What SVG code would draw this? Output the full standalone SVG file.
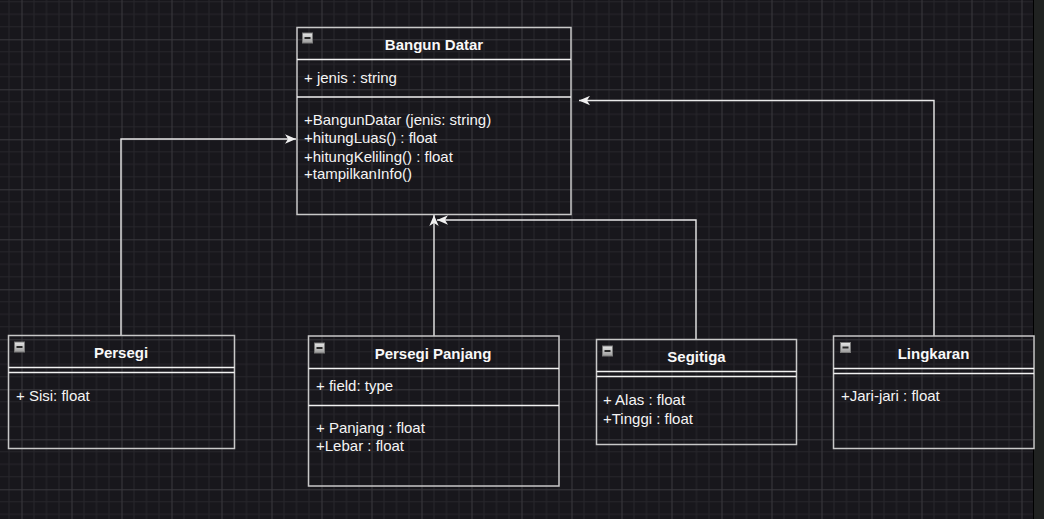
<svg xmlns="http://www.w3.org/2000/svg" width="1044" height="519" viewBox="0 0 1044 519">
<style>
.box{fill:none;stroke:#c8c8c8;stroke-width:1.5}
.div{stroke:#f2f2f2;stroke-width:1.5}
.t{font-family:"Liberation Sans",Arial,sans-serif;font-size:15px;fill:#f4f4f4}
.h{font-family:"Liberation Sans",Arial,sans-serif;font-size:15px;font-weight:bold;fill:#f8f8f8;text-anchor:middle}
.edge{fill:none;stroke:#e8e8e8;stroke-width:1.4}
</style>
<defs>
<pattern id="grid" x="21.5" y="39.3" width="50" height="50" patternUnits="userSpaceOnUse">
<path d="M12.5,0V50M25,0V50M37.5,0V50M0,12.5H50M0,25H50M0,37.5H50" stroke="#27262b" stroke-width="1" fill="none"/>
<path d="M0.5,0V50M0,0.5H50" stroke="#3a393e" stroke-width="1" fill="none"/>
</pattern>
<linearGradient id="ig" x1="0" y1="0" x2="0" y2="1">
<stop offset="0" stop-color="#e8e8e8"/>
<stop offset="1" stop-color="#9a9a9a"/>
</linearGradient>
<g id="icon">
<rect x="0.5" y="0.5" width="10" height="10" fill="url(#ig)" stroke="#7a7a7a" stroke-width="1"/>
<rect x="2.5" y="4.5" width="6" height="2" fill="#2a2a2a"/>
</g>
<marker id="arr" viewBox="0 0 11 10" refX="11" refY="5" markerWidth="11" markerHeight="10" markerUnits="userSpaceOnUse" orient="auto">
<path d="M11,5 L0,0.3 L3,5 L0,9.7 Z" fill="#f0f0f0"/>
</marker>
</defs>
<rect width="1044" height="519" fill="#18171c"/>
<rect width="1033" height="519" fill="url(#grid)"/>
<rect x="1033" y="0" width="1" height="519" fill="#000"/>
<rect x="1034" y="0" width="10" height="519" fill="#202221"/>

<g id="connectors">
<path class="edge" d="M121,335 V139 H296" marker-end="url(#arr)"/>
<path class="edge" d="M434,336 V215" marker-end="url(#arr)"/>
<path class="edge" d="M696,339 V220 H437" marker-end="url(#arr)"/>
<path class="edge" d="M934,336 V100.5 H579" marker-end="url(#arr)"/>
</g>

<g id="bangun-datar">
<rect class="box" x="297" y="27.5" width="274" height="187"/>
<line class="div" x1="297" y1="59.5" x2="571" y2="59.5"/>
<line class="div" x1="297" y1="97" x2="571" y2="97"/>
<use href="#icon" x="302" y="32.5"/>
<text class="h" x="434" y="50">Bangun Datar</text>
<text class="t" x="304" y="82.5">+ jenis : string</text>
<text class="t" x="304" y="125">+BangunDatar (jenis: string)</text>
<text class="t" x="304" y="143.3">+hitungLuas() : float</text>
<text class="t" x="304" y="161.6">+hitungKeliling() : float</text>
<text class="t" x="304" y="179">+tampilkanInfo()</text>
</g>

<g id="persegi">
<rect class="box" x="8.5" y="335.5" width="226" height="113"/>
<line class="div" x1="8.5" y1="367.5" x2="234.5" y2="367.5"/>
<line class="div" x1="8.5" y1="372.5" x2="234.5" y2="372.5"/>
<use href="#icon" x="14" y="341.5"/>
<text class="h" x="121" y="358">Persegi</text>
<text class="t" x="16" y="401">+ Sisi: float</text>
</g>

<g id="persegi-panjang">
<rect class="box" x="308.5" y="336" width="250.5" height="150"/>
<line class="div" x1="308.5" y1="368.5" x2="559" y2="368.5"/>
<line class="div" x1="308.5" y1="405.5" x2="559" y2="405.5"/>
<use href="#icon" x="314" y="342.5"/>
<text class="h" x="433" y="358.5">Persegi Panjang</text>
<text class="t" x="316" y="391">+ field: type</text>
<text class="t" x="316" y="433">+ Panjang : float</text>
<text class="t" x="316" y="451">+Lebar : float</text>
</g>

<g id="segitiga">
<rect class="box" x="596.5" y="339.5" width="200" height="105"/>
<line class="div" x1="596.5" y1="371.5" x2="796.5" y2="371.5"/>
<line class="div" x1="596.5" y1="376.5" x2="796.5" y2="376.5"/>
<use href="#icon" x="602" y="345.5"/>
<text class="h" x="696.5" y="362">Segitiga</text>
<text class="t" x="603" y="405">+ Alas : float</text>
<text class="t" x="603" y="423.5">+Tinggi : float</text>
</g>

<g id="lingkaran">
<rect class="box" x="833.5" y="336" width="200.5" height="112.5"/>
<line class="div" x1="833.5" y1="368.5" x2="1034" y2="368.5"/>
<line class="div" x1="833.5" y1="373.5" x2="1034" y2="373.5"/>
<use href="#icon" x="840" y="342"/>
<text class="h" x="933.5" y="358.5">Lingkaran</text>
<text class="t" x="841" y="401">+Jari-jari : float</text>
</g>
</svg>
